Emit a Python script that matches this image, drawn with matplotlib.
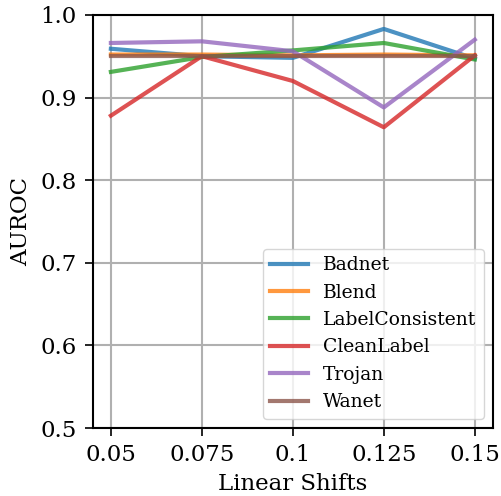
import matplotlib
matplotlib.use("Agg")
import matplotlib.pyplot as plt

shifts = ["0.05", "0.075", "0.1", "0.125", "0.15"]
badnet = [0.959, 0.950, 0.948, 0.983, 0.947]
blend = [0.952, 0.952, 0.951, 0.952, 0.951]
label_consistent = [0.931, 0.949, 0.957, 0.966, 0.946]
clean_label = [0.878, 0.950, 0.920, 0.864, 0.951]
trojan = [0.966, 0.968, 0.956, 0.888, 0.970]
wanet = [0.950, 0.950, 0.950, 0.950, 0.950]

series = [("Badnet", badnet), ("Blend", blend), ("LabelConsistent", label_consistent),
          ("CleanLabel", clean_label), ("Trojan", trojan), ("Wanet", wanet)]

plt.rcParams['font.family'] = ['DejaVu Serif']
fig = plt.figure(figsize=(5.01, 4.96), dpi=100)
ax = fig.add_axes([0.185, 0.137, 0.799, 0.833])
x = list(range(len(shifts)))
for name, vals in series:
    ax.plot(x, vals, linewidth=3, alpha=0.8, label=name)
ax.set_xticks(x)
ax.set_xticklabels(shifts)
ax.set_ylim(0.5, 1.0)
ax.set_yticks([0.5, 0.6, 0.7, 0.8, 0.9, 1.0])
ax.tick_params(labelsize=16.5, length=5.5, width=1.2, pad=6)
ax.set_xlabel("Linear Shifts", fontsize=16.5, labelpad=5)
ax.set_ylabel("AUROC", fontsize=16.5, labelpad=6)
ax.grid(True, color='#b0b0b0', linewidth=1.5)
ax.set_axisbelow(True)
for s in ax.spines.values():
    s.set_linewidth(1.5)
ax.legend(loc='lower right', fontsize=13.5)
fig.savefig("out.png", dpi=100)
